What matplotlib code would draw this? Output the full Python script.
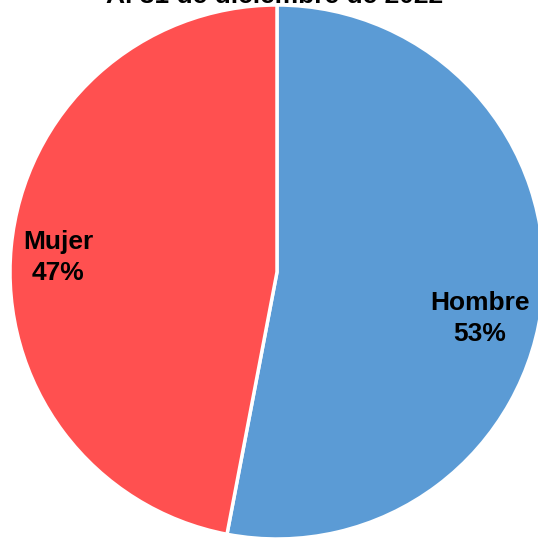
import matplotlib.pyplot as plt

plt.rcParams['font.family'] = ['Liberation Sans', 'DejaVu Sans']

labels = ['Hombre', 'Mujer']
values = [53, 47]
colors = ['#5B9BD5', '#FF5050']
title = 'Al 31 de diciembre de 2022'

fig = plt.figure(figsize=(5.38, 5.39), dpi=100)
ax = fig.add_axes([10 / 538, 0, 534 / 538, 534 / 539])

wedges, _ = ax.pie(values, colors=colors, startangle=90, counterclock=False,
                   wedgeprops=dict(edgecolor='white', linewidth=2.5))
ax.set_xlim(-1, 1)
ax.set_ylim(-1, 1)
ax.set_aspect('equal')

# posiciones de las etiquetas
pos = {'Hombre': (0.76, -0.175), 'Mujer': (-0.82, 0.055)}
for lab, v in zip(labels, values):
    x, y = pos[lab]
    ax.text(x, y, f'{lab}\n{v}%', ha='center', va='center', fontsize=19,
            fontweight='bold', linespacing=1.35)

fig.text(275 / 538, 1 - 3 / 539, title, ha='center', va='baseline',
         fontsize=19, fontweight='bold')

fig.savefig('out.png', dpi=100)
